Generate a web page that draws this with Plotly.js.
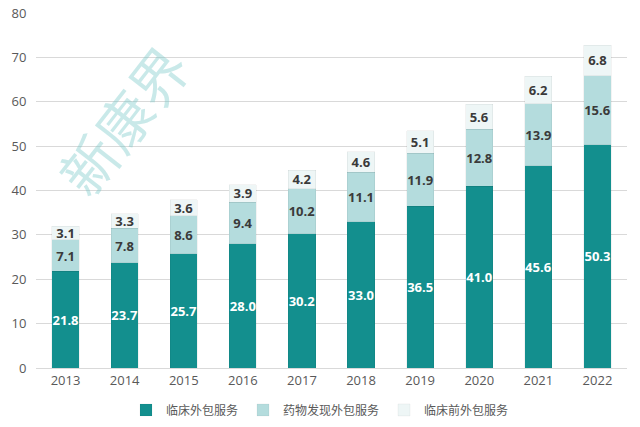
<!DOCTYPE html>
<html><head><meta charset="utf-8">
<script src="https://cdn.plot.ly/plotly-3.0.1.min.js"></script>
<style>html,body{margin:0;padding:0;background:#fff}#c{width:640px;height:427px}</style>
</head><body><div id="c"></div>
<script>
const years = ['2013','2014','2015','2016','2017','2018','2019','2020','2021','2022'];
const clinical = [21.8,23.7,25.7,28.0,30.2,33.0,36.5,41.0,45.6,50.3];
const discovery = [7.1,7.8,8.6,9.4,10.2,11.1,11.9,12.8,13.9,15.6];
const preclinical = [3.1,3.3,3.6,3.9,4.2,4.6,5.1,5.6,6.2,6.8];
const names = ['临床外包服务','药物发现外包服务','临床前外包服务'];
const colors = ['#138f8e','#b4dcdd','#eef6f6'];
const textColors = ['#ffffff','#3a3a3a','#3a3a3a'];
const series = [clinical, discovery, preclinical];
const traces = series.map((v,i)=>({
  type:'bar', x:years, y:v, name:names[i],
  marker:{color:colors[i], line:{color:'rgba(0,0,0,0.08)', width:0.6}},
  text:v.map(d=>d.toFixed(1)), textposition:'inside', insidetextanchor:'middle',
  textfont:{family:'Open Sans, sans-serif', size:13, color:textColors[i], weight:'bold'},
  textangle:0, hoverinfo:'none', constraintext:'none'
}));
const layout = {
  width:640, height:427, barmode:'stack', bargap:0.54,
  margin:{l:36, r:13, t:13, b:59, autoexpand:false},
  paper_bgcolor:'#fff', plot_bgcolor:'#fff',
  font:{family:'Open Sans, Noto Sans CJK SC, sans-serif', color:'#595959'},
  xaxis:{type:'category', tickfont:{size:13, color:'#595959'}, showline:true, linecolor:'#d9d9d9', ticks:'', showgrid:false},
  yaxis:{range:[0,80], dtick:10, tickfont:{size:13, color:'#595959'}, gridcolor:'#d9d9d9', zeroline:false, ticks:'outside', ticklen:6, tickcolor:'rgba(0,0,0,0)'},
  showlegend:true,
  legend:{orientation:'h', x:0.5, xref:'container', xanchor:'center', y:0.04, yref:'container', yanchor:'middle',
    font:{family:'Noto Sans CJK SC, sans-serif', size:12, color:'#595959'}, traceorder:'normal', itemwidth:30},
  annotations:[{text:'新康界', x:0.145, y:0.70, xref:'paper', yref:'paper', xanchor:'center', yanchor:'middle', showarrow:false, textangle:-52,
    font:{family:'Noto Sans CJK SC, sans-serif', size:56, color:'rgba(120,200,200,0.4)'}}]
};
Plotly.newPlot('c', traces, layout, {staticPlot:true, displayModeBar:false});
</script></body></html>
